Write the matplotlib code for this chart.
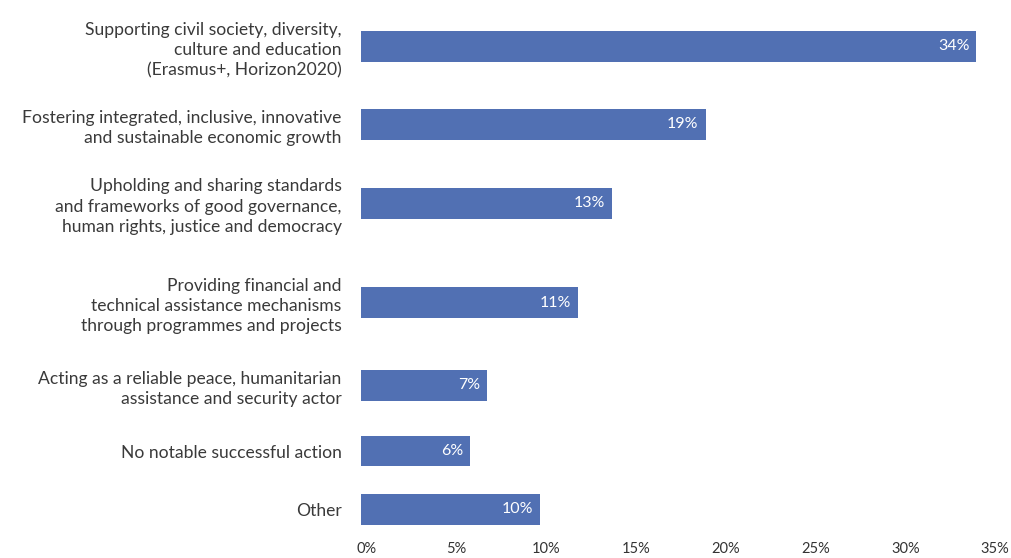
import matplotlib
matplotlib.use("Agg")
import matplotlib.pyplot as plt
import matplotlib.transforms as mtransforms

categories = [
    "Supporting civil society, diversity,\nculture and education\n(Erasmus+, Horizon2020)",
    "Fostering integrated, inclusive, innovative\nand sustainable economic growth",
    "Upholding and sharing standards\nand frameworks of good governance,\nhuman rights, justice and democracy",
    "Providing financial and\ntechnical assistance mechanisms\nthrough programmes and projects",
    "Acting as a reliable peace, humanitarian\nassistance and security actor",
    "No notable successful action",
    "Other",
]
values = [34.3, 19.2, 14.0, 12.1, 7.0, 6.1, 10.0]
value_labels = ["34%", "19%", "13%", "11%", "7%", "6%", "10%"]
x_ticks = [0, 5, 10, 15, 20, 25, 30, 35]
x_tick_labels = ["0%", "5%", "10%", "15%", "20%", "25%", "30%", "35%"]

# layout (row centres, in units of 100 px from the top)
row_pos = [0.465, 1.24, 2.03, 3.025, 3.85, 4.51, 5.09]

plt.rcParams['font.family'] = ['Lato', 'DejaVu Sans']
W, H = 1012, 558
fig = plt.figure(figsize=(W / 100, H / 100), dpi=100)
left, right = 361 / W, 989 / W
bottom, top = (H - 535) / H, 1.0
ax = fig.add_axes([left, bottom, right - left, top - bottom])

color = "#5170B3"
ax.barh(row_pos, values, height=0.31, color=color)
for y, v, lab in zip(row_pos, values, value_labels):
    ax.text(v - 0.38, y, lab, ha="right", va="center", color="white", fontsize=11.5)

ax.set_xlim(0, 35)
ax.set_ylim(5.35, 0)
ax.set_xticks(x_ticks)
ax.set_xticklabels(x_tick_labels, fontsize=10.5, color="#333333")
ax.set_yticks(row_pos)
ax.set_yticklabels(categories, fontsize=12.6, color="#3a3a3a", linespacing=1.32)
ax.tick_params(axis="both", length=0)
ax.tick_params(axis="y", pad=14)
ax.tick_params(axis="x", pad=5)
for lab in ax.get_xticklabels():
    lab.set_transform(lab.get_transform() + mtransforms.ScaledTranslation(6 / 100, 0, fig.dpi_scale_trans))
for s in ax.spines.values():
    s.set_visible(False)

fig.savefig("out.png", dpi=100)
